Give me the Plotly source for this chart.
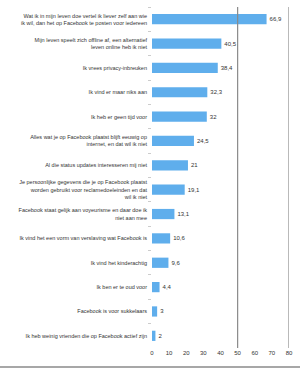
import plotly.graph_objects as go

categories = [
    "Wat ik in mijn leven doe vertel ik liever zelf aan wie<br>ik wil, dan het op Facebook te posten voor iedereen",
    "Mijn leven speelt zich offline af, een alternatief<br>leven online heb ik niet",
    "Ik vrees privacy-inbreuken",
    "Ik vind er maar niks aan",
    "Ik heb er geen tijd voor",
    "Alles wat je op Facebook plaatst blijft eeuwig op<br>internet, en dat wil ik niet",
    "Al die status updates interesseren mij niet",
    "Je persoonlijke gegevens die je op Facebook plaatst<br>worden gebruikt voor reclamedoeleinden en dat<br>wil ik niet",
    "Facebook staat gelijk aan voyeurisme en daar doe ik<br>niet aan mee",
    "Ik vind het een vorm van verslaving wat Facebook is",
    "Ik vind het kinderachtig",
    "Ik ben er te oud voor",
    "Facebook is voor sukkelaars",
    "Ik heb weinig vrienden die op Facebook actief zijn",
]
values = [66.9, 40.5, 38.4, 32.3, 32, 24.5, 21, 19.1, 13.1, 10.6, 9.6, 4.4, 3, 2]
value_labels = [f"{v:g}".replace(".", ",") for v in values]
x_ticks = [0, 10, 20, 30, 40, 50, 60, 70, 80]
grid_at = [50, 80]

fig = go.Figure(go.Bar(
    x=values, y=categories, orientation="h",
    marker=dict(color="#5FAEEC", line=dict(width=0)),
    width=0.42,
    text=value_labels, textposition="outside", cliponaxis=False,
    textfont=dict(size=6, color="#333333", family="Liberation Sans"),
))

shapes = [dict(type="line", xref="x", yref="paper", x0=g, x1=g, y0=0, y1=1,
               line=dict(color="#8a8a8a", width=1.2)) for g in grid_at]
shapes.append(dict(type="line", xref="paper", yref="paper", x0=-1.2, x1=1.1,
                   y0=-0.056, y1=-0.056, line=dict(color="#8a8a8a", width=1.5)))

fig.update_layout(
    width=300, height=368,
    margin=dict(l=152, r=11, t=7, b=20),
    paper_bgcolor="white", plot_bgcolor="white",
    showlegend=False,
    bargap=0.58,
    font=dict(family="Liberation Sans", size=5.5, color="#333333"),
    xaxis=dict(range=[0, 80], tickvals=x_ticks, showgrid=False, zeroline=False,
               showline=False, ticks="", tickfont=dict(size=6, color="#333333")),
    yaxis=dict(autorange="reversed", showgrid=False, zeroline=False,
               ticks="outside", tickson="boundaries", ticklen=3,
               tickcolor="#cccccc", tickfont=dict(size=5.5, color="#333333"),
               ticklabelstandoff=4),
    shapes=shapes,
)

fig.write_html("out.html")
